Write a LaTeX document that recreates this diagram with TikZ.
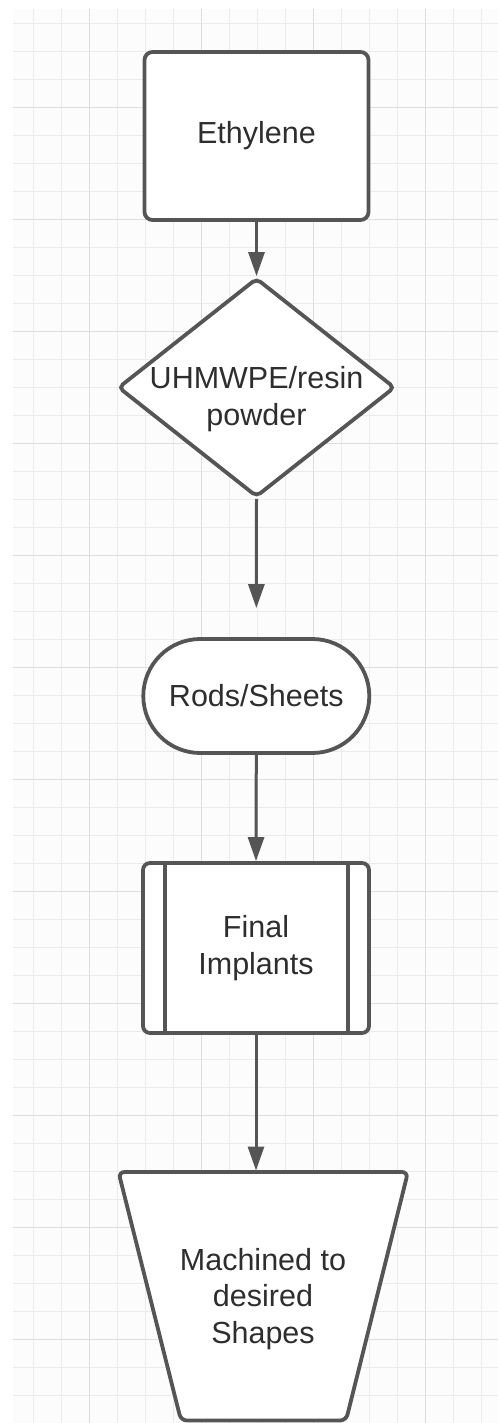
\documentclass[tikz,border=0pt]{standalone}
\usepackage{fontspec}
\setmainfont{Liberation Sans}
\usetikzlibrary{arrows.meta,shapes.geometric}
\definecolor{shapegray}{HTML}{555555}
\definecolor{txtc}{HTML}{2E2E2E}
\definecolor{gridminor}{HTML}{EBEBEB}
\definecolor{gridmajor}{HTML}{DEDEDE}
\definecolor{gridbg}{HTML}{FCFCFC}
\tikzset{
  shapebox/.style={draw=shapegray, line width=3.8pt, fill=white, inner sep=0pt, text=txtc, align=center,
    font=\fontsize{30.5}{36.5}\selectfont},
  edgeline/.style={draw=shapegray, line width=3.8pt},
  txt/.style={text=txtc, align=center, inner sep=0pt, font=\fontsize{30.5}{36.5}\selectfont},
  arr/.style={draw=shapegray, line width=3pt, -{Triangle[length=24pt,width=16pt]}},
  minorline/.style={draw=gridminor, line width=1pt},
  majorline/.style={draw=gridmajor, line width=1pt}
}
\begin{document}
\begin{tikzpicture}[x=1pt,y=-1pt]
\useasboundingbox (0,0) rectangle (498,1423);
\fill[white] (0,0) rectangle (498,1423);
\fill[gridbg] (12.5,9) rectangle (498,1423);
% grid
\foreach \k in {0,...,16}{
  \pgfmathsetmacro{\xx}{33+28*\k}
  \draw[minorline] (\xx,9) -- (\xx,1423);
}
\foreach \k in {0,...,49}{
  \pgfmathsetmacro{\yy}{23.3+28*\k}
  \draw[minorline] (12.5,\yy) -- (498,\yy);
}
\foreach \xx in {89,201,313,425}{
  \draw[majorline] (\xx,9) -- (\xx,1423);
}
\foreach \k in {0,...,11}{
  \pgfmathsetmacro{\yy}{107.3+112*\k}
  \draw[majorline] (12.5,\yy) -- (498,\yy);
}
% shapes
\node[shapebox, rectangle, rounded corners=8pt, minimum width=224pt, minimum height=168pt] (eth) at (256.5,136) {Ethylene};
\node[shapebox, diamond, rounded corners=5pt, minimum width=277pt, minimum height=219pt] (powder) at (256.5,387.5) {};
\node[txt] (powdertxt) at (256.5,399) {UHMWPE/resin\\powder};
\node[shapebox, rectangle, rounded corners=57pt, minimum width=226pt, minimum height=114pt] (rods) at (256.3,696) {Rods/Sheets};
\node[shapebox, rectangle, rounded corners=7pt, minimum width=226pt, minimum height=170pt] (fin) at (256,948) {Final\\Implants};
\draw[edgeline] ([xshift=24pt]fin.north west) -- ([xshift=24pt]fin.south west);
\draw[edgeline] ([xshift=-23pt]fin.north east) -- ([xshift=-23pt]fin.south east);
\draw[edgeline, fill=white, rounded corners=6pt, line join=round]
  (118.5,1172) -- (408,1172) -- (346,1420.5) -- (181,1420.5) -- cycle;
\node[txt] (mach) at (263,1299) {Machined to\\desired\\Shapes};
\coordinate (machtop) at (256,1170.5);
% connectors
\draw[arr] (eth.south) -- (powder.north);
\draw[arr, shorten >=29pt] (powder.south) -- (rods.north);
\draw[arr] (rods.south) -- (fin.north);
\draw[arr] (fin.south) -- (machtop);
\end{tikzpicture}
\end{document}
